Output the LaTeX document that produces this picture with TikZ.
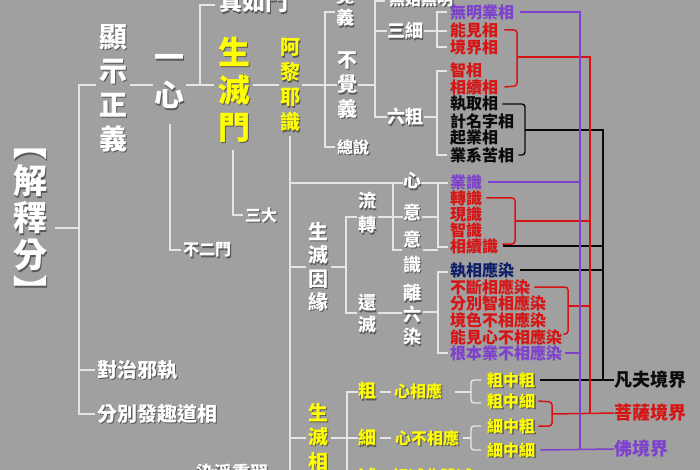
\documentclass[tikz,border=0pt]{standalone}
\usepackage{fontspec}
\setmainfont{Noto Sans CJK TC}
\definecolor{bg}{RGB}{160,160,160}
\definecolor{ln}{RGB}{230,230,230}
\definecolor{shd}{RGB}{60,60,60}
\definecolor{yel}{RGB}{255,255,0}
\definecolor{rd}{RGB}{215,20,20}
\definecolor{pu}{RGB}{125,65,205}
\definecolor{nv}{RGB}{15,30,105}
\definecolor{bk}{RGB}{10,10,10}
\newcommand\sht[4][]{%
  \node[txt,#1,text=shd,opacity=.7] at ([shift={(1.3,1.3)}]#2) {#4};
  \node[txt,#1] (#3) at (#2) {#4};}
\begin{document}
\begin{tikzpicture}[x=1pt,y=-1pt,
  txt/.style={inner sep=0pt,align=center,text=white},
  fs/.style n args={2}{font=\bfseries\fontsize{#1}{#2}\selectfont},
  yl/.style={text=yel},
  li/.style={inner sep=0pt,anchor=west,font=\bfseries\fontsize{16}{16}\selectfont},
  wl/.style={draw=ln,line width=1.4pt},
  pl/.style={draw=pu,line width=1.5pt},
  rl/.style={draw=rd,line width=1.5pt},
  bl/.style={draw=bk,line width=1.4pt}]
\useasboundingbox (0,0) rectangle (700,470);
\clip (0,0) rectangle (700,470);
\fill[bg] (0,0) rectangle (700,470);

% ---------- white tree lines ----------
\draw[wl] (55,228) -- (79,228);
\draw[wl] (96,85) -- (79,85) -- (79,414) -- (95,414);
\draw[wl] (79,370) -- (95,370);
\draw[wl] (130,85) -- (153,85);
\draw[wl] (186,85) -- (214,85);
\draw[wl] (200,85) -- (200,5) -- (215,5);
\draw[wl] (170,124) -- (170,250) -- (181,250);
\draw[wl] (233,150) -- (233,215) -- (243,215);
\draw[wl] (253,85) -- (279,85);
\draw[wl] (302,85) -- (337,85);
\draw[wl] (335,12) -- (325,12) -- (325,147) -- (335,147);
\draw[wl] (358,85) -- (375,85);
\draw[wl] (385,1) -- (375,1) -- (375,117) -- (387,117);
\draw[wl] (375,31) -- (387,31);
\draw[wl] (424,31) -- (447,31);
\draw[wl] (447,12) -- (437,12) -- (437,47) -- (447,47);
\draw[wl] (424,117) -- (437,117);
\draw[wl] (447,71) -- (437,71) -- (437,155) -- (447,155);
\draw[wl] (290,136) -- (290,472);
\draw[wl] (290,183) -- (403,183);
\draw[wl] (290,267) -- (306,267);
\draw[wl] (290,438) -- (306,438);
\draw[wl] (331,267) -- (346,267);
\draw[wl] (357,217) -- (346,217) -- (346,313) -- (357,313);
\draw[wl] (378,217) -- (403,217);
\draw[wl] (393,183) -- (393,250) -- (402,250);
\draw[wl] (378,313) -- (402,313);
\draw[wl] (421,183) -- (448,183);
\draw[wl] (422,217) -- (438,217);
\draw[wl] (423,250) -- (438,250);
\draw[wl] (438,183) -- (438,247) -- (448,247);
\draw[wl] (423,312) -- (438,312);
\draw[wl] (448,272) -- (438,272) -- (438,353) -- (448,353);
\draw[wl] (331,438) -- (347,438);
\draw[wl] (358,392) -- (347,392) -- (347,472);
\draw[wl] (347,438) -- (358,438);
\draw[wl] (347,471) -- (358,471);
\draw[wl] (380,392) -- (391,392);
\draw[wl] (380,438) -- (391,438);
\draw[wl] (380,472) -- (391,472);
\draw[wl] (455,392) -- (471,392);
\draw[wl,rounded corners=3] (481,380) -- (471,380) -- (471,403) -- (481,403);
\draw[wl] (463,438) -- (471,438);
\draw[wl,rounded corners=3] (481,426) -- (471,426) -- (471,450) -- (481,450);

% ---------- left/middle texts ----------
\sht[fs={34}{37}]{30,227}{jsf}{︻\\解\\釋\\分\\︼}
\sht[fs={28}{34}]{113,88}{xszy}{顯\\示\\正\\義}
\sht[fs={30}{38}]{169,82}{yx}{一\\心}
\sht[fs={23}{23}]{254,2}{zrm}{真如門}
\sht[fs={32}{37.5},yl]{234,90}{smm}{生\\滅\\門}
\sht[fs={16}{16}]{261,215}{sd}{三大}
\sht[fs={16}{16}]{207,250}{bem}{不二門}
\sht[fs={20}{20}]{137,370}{dzxz}{對治邪執}
\sht[fs={20}{20}]{157,414}{fbfq}{分別發趣道相}
\sht[fs={20}{25},yl]{290,85}{alys}{阿\\黎\\耶\\識}
\sht[fs={18}{22}]{345,7}{jy}{覺\\義}
\sht[fs={20}{24.5}]{347,85}{bjy}{不\\覺\\義}
\sht[fs={16}{16}]{353,147}{zs}{總說}
\sht[fs={16}{16}]{421,-1}{wswm}{無始無明}
\sht[fs={18}{18}]{405,31}{sx}{三細}
\sht[fs={18}{18}]{405,117}{lc}{六粗}
\sht[fs={18}{18}]{412,181}{xin}{心}
\sht[fs={18}{18}]{412,212}{yi}{意}
\sht[fs={18}{25}]{412,252}{ysh}{意\\識}
\sht[fs={18}{22}]{412,315}{llr}{離\\六\\染}
\sht[fs={18}{24}]{367,213}{lz}{流\\轉}
\sht[fs={18}{22}]{367,314}{hm}{還\\滅}
\sht[fs={20}{23.3}]{318,267}{smyy}{生\\滅\\因\\緣}
\sht[fs={20}{24.5},yl]{318,437}{smx}{生\\滅\\相}
\sht[fs={18}{18},yl]{367,391}{cu}{粗}
\sht[fs={16}{16},yl]{418,391}{xxy}{心相應}
\sht[fs={18}{18},yl]{367,438}{xi}{細}
\sht[fs={16}{16},yl]{427,438}{xbxy}{心不相應}
\sht[fs={18}{18},yl]{367,477}{mie}{滅}
\sht[fs={16}{16},yl]{432,477}{xmf}{相滅非體滅}
\sht[fs={18}{18}]{232,473}{rjxx}{染淨熏習}

% yellow leaves
\sht[li,yl,anchor=west]{487,380}{czc}{粗中粗}
\sht[li,yl,anchor=west]{487,401}{czx}{粗中細}
\sht[li,yl,anchor=west]{487,426}{xzc}{細中粗}
\sht[li,yl,anchor=west]{487,450}{xzx}{細中細}

% ---------- right list ----------
\node[li,text=pu] (wmy) at (450,12) {無明業相};
\node[li,text=rd] (njx) at (450,30) {能見相};
\node[li,text=rd] (jjx) at (450,47) {境界相};
\node[li,text=rd] (zx) at (450,70) {智相};
\node[li,text=rd] (xxx) at (450,87) {相續相};
\node[li,text=bk] (zqx) at (450,104) {執取相};
\node[li,text=bk] (jmzx) at (450,121) {計名字相};
\node[li,text=bk] (qyx) at (450,138) {起業相};
\node[li,text=bk] (yxkx) at (450,155) {業系苦相};
\node[li,text=pu] (yesh) at (450,182) {業識};
\node[li,text=rd] (zhsh) at (450,198) {轉識};
\node[li,text=rd] (xnsh) at (450,214) {現識};
\node[li,text=rd] (zhish) at (450,230) {智識};
\node[li,text=rd] (xxsh) at (450,246) {相續識};
\node[li,text=nv] (zxyr) at (450,270) {執相應染};
\node[li,text=rd] (bdr) at (450,287) {不斷相應染};
\node[li,text=rd] (fbr) at (450,303) {分別智相應染};
\node[li,text=rd] (jsr) at (450,320) {境色不相應染};
\node[li,text=rd] (njr) at (450,337) {能見心不相應染};
\node[li,text=pu] (gbr) at (450,353) {根本業不相應染};

\node[inner sep=0pt,anchor=west,font=\bfseries\fontsize{18}{18}\selectfont,text=bk] (ffjj) at (614,380) {凡夫境界};
\node[inner sep=0pt,anchor=west,font=\bfseries\fontsize{18}{18}\selectfont,text=rd] (psjj) at (614,413) {菩薩境界};
\node[inner sep=0pt,anchor=west,font=\bfseries\fontsize{18}{18}\selectfont,text=pu] (fjj) at (614,449) {佛境界};

% ---------- coloured connectors ----------
\coordinate (PV) at (580,0);
\coordinate (RV) at (590,0);
\coordinate (BV) at (603,0);
% black
\draw[bl,rounded corners=3] ([xshift=4]zqx.east) -- (525,104) -- (525,155) -- ([xshift=4]yxkx.east);
\draw[bl] (525,130) -- (BV |- 0,130) -- (BV |- ffjj);
\draw[bl] ([xshift=5]xxsh.east) -- (xxsh -| BV);
\draw[bl] ([xshift=6]zxyr.east) -- (zxyr -| BV);
\draw[bl] ([xshift=5]czc.east) -- (ffjj.west);
% red
\draw[rl,rounded corners=3] ([xshift=6]njx.east) -- (517,30) -- (517,86) -- ([xshift=6]xxx.east);
\draw[rl] (517,57) -- (RV |- 0,57) -- (RV |- psjj);
\draw[rl,rounded corners=3] ([xshift=4]zhsh.east) -- (515,198) -- (515,244) -- ([xshift=4]xxsh.east |- 0,244);
\draw[rl] (515,221) -- (RV |- 0,221);
\draw[rl,rounded corners=3] ([xshift=4]bdr.east) -- (568,287) -- (568,334) -- ([xshift=1]njr.east |- 0,334);
\draw[rl] (568,306) -- (RV |- 0,306);
\draw[rl,rounded corners=3] ([xshift=3]czx.east) -- (552,402) -- (552,426) -- ([xshift=3]xzc.east);
\draw[rl] (552,414) -- (psjj.west);
% purple
\draw[pl] ([xshift=6]wmy.east) -- (wmy -| PV) -- (PV |- fjj);
\draw[pl] ([xshift=6]yesh.east) -- (yesh -| PV);
\draw[pl] ([xshift=3]gbr.east) -- (gbr -| PV);
\draw[pl] ([xshift=5]xzx.east) -- (fjj.west);
\end{tikzpicture}
\end{document}
